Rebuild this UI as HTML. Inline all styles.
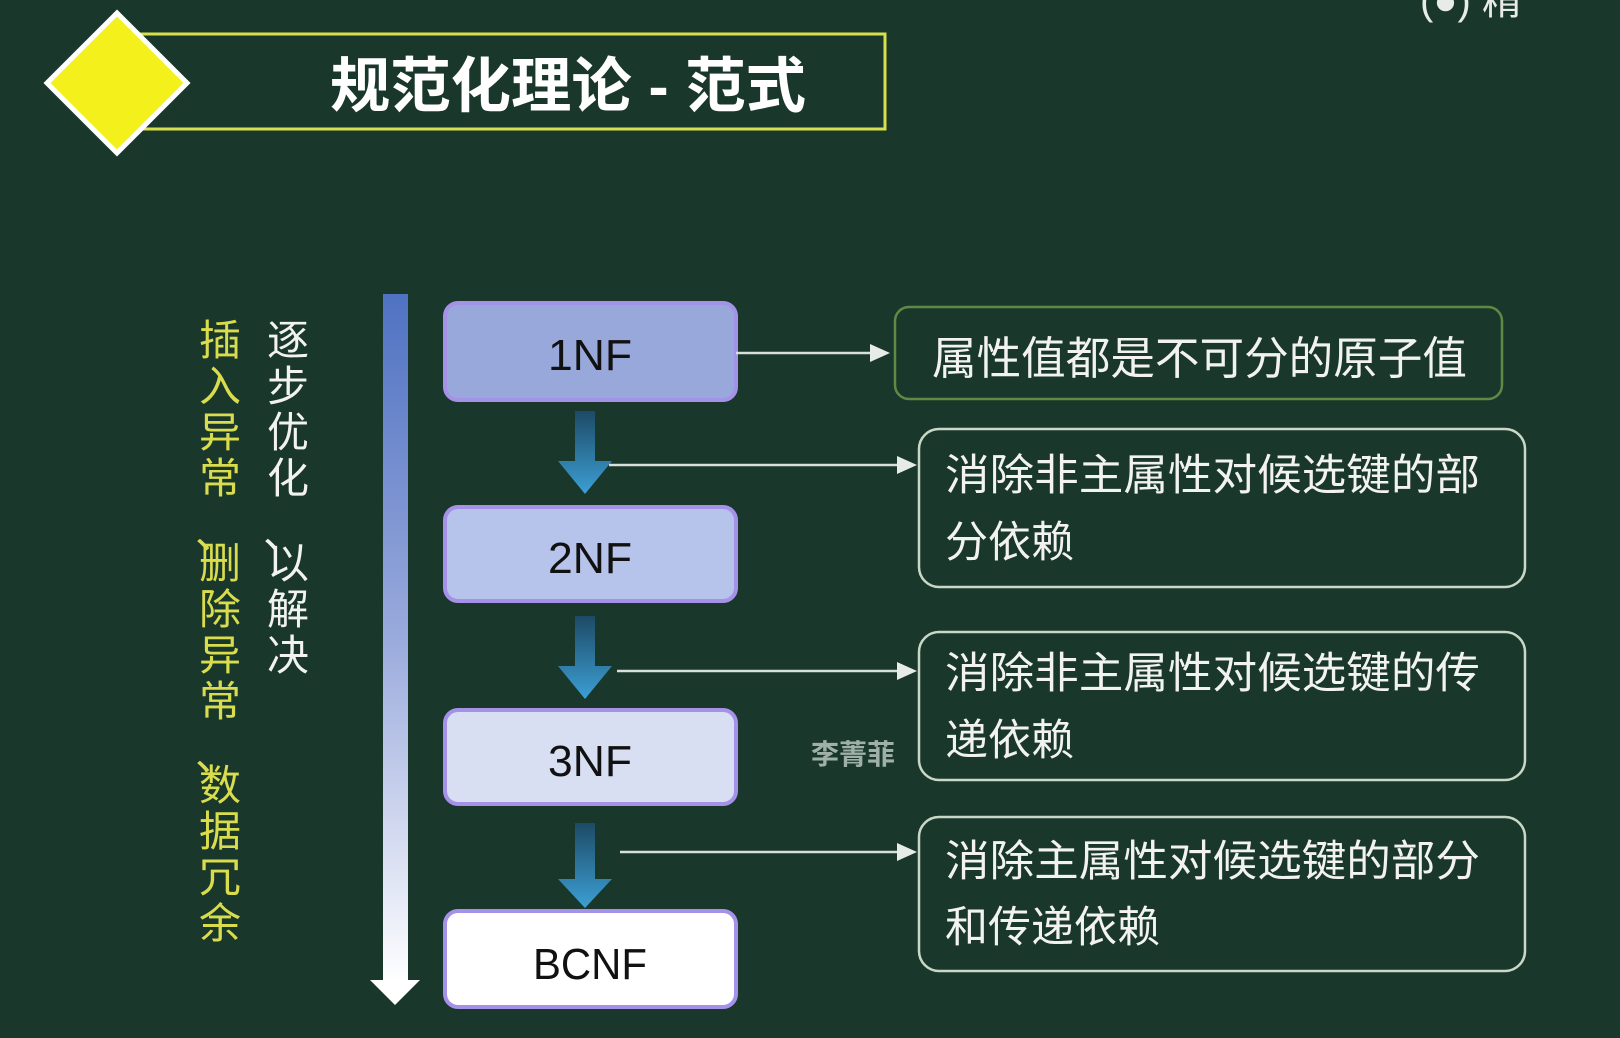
<!DOCTYPE html>
<html><head><meta charset="utf-8"><style>
body{margin:0;width:1620px;height:1038px;overflow:hidden;background:#19372b;}
svg{display:block}
</style></head><body>
<svg width="1620" height="1038" viewBox="0 0 1620 1038" xmlns="http://www.w3.org/2000/svg">
<defs>
<linearGradient id="bar" x1="0" y1="0" x2="0" y2="1">
<stop offset="0" stop-color="#4f72c2"/><stop offset="0.5" stop-color="#9aaadc"/><stop offset="1" stop-color="#ffffff"/>
</linearGradient>
<linearGradient id="da" x1="0" y1="0" x2="0" y2="1">
<stop offset="0" stop-color="#1d4a66"/><stop offset="1" stop-color="#3c9fd4"/>
</linearGradient>
</defs>
<rect width="1620" height="1038" fill="#19372b"/>
<text x="1420" y="14" fill="#e8ece8" font-family="Liberation Sans, Noto Sans CJK SC, sans-serif" font-size="40">(●) 精</text>
<rect x="134" y="34" width="751" height="95" fill="none" stroke="#d6e04c" stroke-width="3"/>
<polygon points="117,13 187,83 117,153 47,83" fill="#f3f01c" stroke="#ffffff" stroke-width="5"/>
<text x="568" y="107" text-anchor="middle" fill="#ffffff" font-family="Liberation Sans, Noto Sans CJK SC, sans-serif" font-size="60" font-weight="bold" textLength="476" lengthAdjust="spacingAndGlyphs">规范化理论 - 范式</text>
<g font-family="Liberation Sans, Noto Sans CJK SC, sans-serif" font-size="42" text-anchor="middle">
<g fill="#d9dc4c">
<text x="220" y="355">插</text><text x="220" y="401">入</text><text x="220" y="447">异</text><text x="220" y="493">常</text>
<text x="216" y="548">、</text><text x="220" y="578">删</text><text x="220" y="624">除</text><text x="220" y="670">异</text><text x="220" y="716">常</text>
<text x="216" y="770">、</text><text x="220" y="800">数</text><text x="220" y="846">据</text><text x="220" y="892">冗</text><text x="220" y="938">余</text>
</g>
<g fill="#f2f2f2">
<text x="288" y="355">逐</text><text x="288" y="401">步</text><text x="288" y="447">优</text><text x="288" y="493">化</text>
<text x="284" y="548">、</text><text x="288" y="578">以</text><text x="288" y="624">解</text><text x="288" y="670">决</text>
</g>
</g>
<rect x="383" y="294" width="25" height="690" fill="url(#bar)"/>
<polygon points="370,980 420,980 395,1005" fill="#ffffff"/>
<g font-family="Liberation Sans, DejaVu Sans, sans-serif" font-size="44" text-anchor="middle" fill="#111">
<rect x="445" y="303" width="291" height="97" rx="13" fill="#98a8da" stroke="#a591e8" stroke-width="4"/>
<text x="590" y="370" textLength="84" lengthAdjust="spacingAndGlyphs">1NF</text>
<rect x="445" y="507" width="291" height="94" rx="13" fill="#b6c3ea" stroke="#a591e8" stroke-width="4"/>
<text x="590" y="573" textLength="84" lengthAdjust="spacingAndGlyphs">2NF</text>
<rect x="445" y="710" width="291" height="94" rx="13" fill="#d9dff3" stroke="#a591e8" stroke-width="4"/>
<text x="590" y="776" textLength="84" lengthAdjust="spacingAndGlyphs">3NF</text>
<rect x="445" y="911" width="291" height="96" rx="13" fill="#ffffff" stroke="#a591e8" stroke-width="4"/>
<text x="590" y="979" textLength="114" lengthAdjust="spacingAndGlyphs">BCNF</text>
</g>
<g fill="url(#da)">
<polygon points="575,411 595,411 595,461 612,461 585,494 558,461 575,461"/>
<polygon points="575,616 595,616 595,666 612,666 585,699 558,666 575,666"/>
<polygon points="575,823 595,823 595,879 612,879 585,908 558,879 575,879"/>
</g>
<g stroke="#d8e0dc" stroke-width="2.5" fill="#e8ece8">
<line x1="736" y1="353" x2="872" y2="353"/><polygon points="870,344 890,353 870,362" stroke="none"/>
<line x1="609" y1="465" x2="899" y2="465"/><polygon points="897,456 917,465 897,474" stroke="none"/>
<line x1="617" y1="671" x2="899" y2="671"/><polygon points="897,662 917,671 897,680" stroke="none"/>
<line x1="620" y1="852" x2="899" y2="852"/><polygon points="897,843 917,852 897,861" stroke="none"/>
</g>
<rect x="895" y="307" width="607" height="92" rx="14" fill="none" stroke="#5f8a45" stroke-width="2.5"/>
<rect x="919" y="429" width="606" height="158" rx="20" fill="none" stroke="#c9d8c6" stroke-width="2.5"/>
<rect x="919" y="632" width="606" height="148" rx="20" fill="none" stroke="#c9d8c6" stroke-width="2.5"/>
<rect x="919" y="817" width="606" height="154" rx="20" fill="none" stroke="#c9d8c6" stroke-width="2.5"/>
<g font-family="Liberation Sans, Noto Sans CJK SC, sans-serif" fill="#f2f2f2">
<text x="932" y="374" font-size="45" textLength="535" lengthAdjust="spacingAndGlyphs">属性值都是不可分的原子值</text>
<g font-size="43">
<text x="945" y="490" textLength="535" lengthAdjust="spacingAndGlyphs">消除非主属性对候选键的部</text>
<text x="945" y="557">分依赖</text>
<text x="945" y="688" textLength="535" lengthAdjust="spacingAndGlyphs">消除非主属性对候选键的传</text>
<text x="945" y="755">递依赖</text>
<text x="945" y="876" textLength="535" lengthAdjust="spacingAndGlyphs">消除主属性对候选键的部分</text>
<text x="945" y="942">和传递依赖</text>
</g>
</g>
<text x="853" y="764" text-anchor="middle" font-family="Liberation Sans, Noto Sans CJK SC, sans-serif" font-size="28" font-weight="bold" fill="#9fb0a8">李菁菲</text>
</svg>
</body></html>
